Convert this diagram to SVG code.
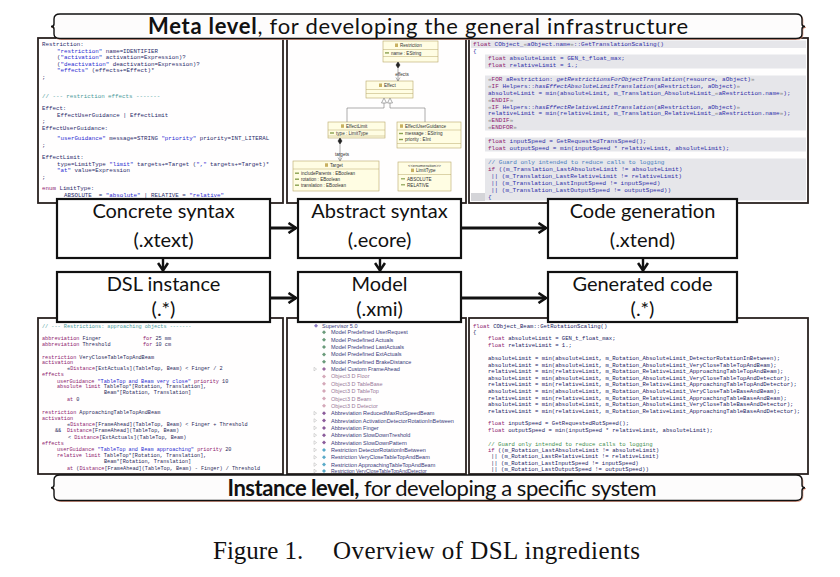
<svg xmlns="http://www.w3.org/2000/svg" width="840" height="577" viewBox="0 0 840 577">
<style>
.panel{fill:#fffefe;stroke:#2a2220;stroke-width:1.8}
.box{fill:#fff;stroke:#111;stroke-width:2.2}
.lbl{font-family:Lato,"Liberation Sans",sans-serif;font-size:20px;fill:#111;text-anchor:middle}
.ban{fill:#fdfcfc;stroke:#111;stroke-width:1.4}
.banh{fill:none;stroke:#d9907a;stroke-width:1}
.bt{font-family:Lato,"Liberation Sans",sans-serif;font-size:22px;fill:#111;text-anchor:middle}
.arr{fill:none;stroke:#111;stroke-width:3}
.code{font-family:"Liberation Mono",monospace}
.c1{font-size:5.8px;fill:#2a2a6a}
.c2{font-size:6px;fill:#2f2fa8}
.c3{font-size:5.2px;fill:#2a2a5a}
.c4{font-size:5.6px;fill:#22225e}
.k{fill:#8e1a6e}
.s{fill:#2a2ad0}
.cm{fill:#4a9a9a}
.cb{fill:#4a80c0}
.cg{fill:#3f8f4f}
.it{font-style:italic}
.gq{fill:#8a8a8a}
.hl{fill:#e6e6ea}
.ec{fill:#fffde3;stroke:#b9a86a;stroke-width:0.6}
.ecl{stroke:#b9a86a;stroke-width:0.5}
.et{font-family:"Liberation Sans",sans-serif;font-size:4.6px;fill:#333}
.mid{text-anchor:middle}
.ico{fill:#c8b060}
.att{fill:#8aa050}
.tr{font-family:"Liberation Sans",sans-serif;font-size:5.5px;fill:#3a3a7a}
.tro{fill:#9a7a9a}
.exp{fill:none;stroke:#b0b0b0;stroke-width:0.5}
.cap{font-family:"Liberation Serif",serif;font-size:25px;fill:#111}
</style>
<defs>
<marker id="ah" viewBox="0 0 12 12" refX="10" refY="6" markerWidth="12" markerHeight="12" markerUnits="userSpaceOnUse" orient="auto">
<path d="M2.5,1 L10,6 L2.5,11" fill="none" stroke="#111" stroke-width="2.6"/>
</marker>
<path id="dm" d="M0,-2 L2,0 L0,2 L-2,0Z"/>
<path id="ex" class="exp" d="M-1,-1.8 L1.6,0 L-1,1.8Z"/>
</defs>

<!-- ===== top-left panel: concrete syntax (xtext) ===== -->
<g id="panel-xtext">
<rect class="panel" x="38" y="38" width="245" height="165"/>
<g class="code c1">
<text x="42" y="46">Restriction:</text>
<text x="57" y="52.5"><tspan class="s">"restriction"</tspan> name=IDENTIFIER</text>
<text x="57" y="59">(<tspan class="s">"activation"</tspan> activation=Expression)?</text>
<text x="57" y="65.5">(<tspan class="s">"deactivation"</tspan> deactivation=Expression)?</text>
<text x="57" y="72"><tspan class="s">"effects"</tspan> (effects+=Effect)*</text>
<text x="42" y="79">;</text>
<text x="42" y="97.5" class="cm">// --- restriction effects -------</text>
<text x="42" y="110">Effect:</text>
<text x="57" y="116.5">EffectUserGuidance | EffectLimit</text>
<text x="42" y="123">;</text>
<text x="42" y="129.5">EffectUserGuidance:</text>
<text x="57" y="140"><tspan class="s">"userGuidance"</tspan> message=STRING <tspan class="s">"priority"</tspan> priority=INT_LITERAL</text>
<text x="42" y="147">;</text>
<text x="42" y="159">EffectLimit:</text>
<text x="57" y="165.5">type=LimitType <tspan class="s">"limit"</tspan> targets+=Target (<tspan class="s">","</tspan> targets+=Target)*</text>
<text x="57" y="172"><tspan class="s">"at"</tspan> value=Expression</text>
<text x="42" y="179">;</text>
<text x="42" y="190"><tspan class="k">enum</tspan> LimitType:</text>
<text x="64" y="196.5">ABSOLUTE</text>
<text x="98.8" y="196.5">= <tspan class="s">"absolute"</tspan> | RELATIVE = <tspan class="s">"relative"</tspan></text>
</g>
</g>

<!-- ===== top-middle panel: abstract syntax (ecore) ===== -->
<g id="panel-ecore">
<rect class="panel" x="287" y="38" width="179" height="165"/>
<g id="ec-restriction">
<rect class="ec" x="383" y="41" width="55" height="21"/>
<line class="ecl" x1="383" y1="49.5" x2="438" y2="49.5"/>
<line class="ecl" x1="383" y1="56.5" x2="438" y2="56.5"/>
<rect class="ico" x="395" y="43.5" width="3" height="3.5"/>
<text class="et" x="400" y="47.2">Restriction</text>
<rect class="att" x="385" y="52.2" width="4" height="1.4"/>
<text class="et" x="391" y="54.8">name : EString</text>
</g>
<g id="ec-effect">
<rect class="ec" x="366" y="81" width="47" height="17"/>
<line class="ecl" x1="366" y1="89.5" x2="413" y2="89.5"/>
<line class="ecl" x1="366" y1="93.5" x2="413" y2="93.5"/>
<rect class="ico" x="379" y="83.5" width="3" height="3.5"/>
<text class="et" x="384" y="87.2">Effect</text>
</g>
<g id="ec-effectlimit">
<rect class="ec" x="328" y="122" width="57" height="16"/>
<line class="ecl" x1="328" y1="130" x2="385" y2="130"/>
<line class="ecl" x1="328" y1="136" x2="385" y2="136"/>
<rect class="ico" x="341" y="124.3" width="3" height="3.5"/>
<text class="et" x="346" y="128">EffectLimit</text>
<rect class="att" x="330" y="132.3" width="4" height="1.4"/>
<text class="et" x="336" y="134.8">type : LimitType</text>
</g>
<g id="ec-effectuserguidance">
<rect class="ec" x="397" y="122" width="64" height="26"/>
<line class="ecl" x1="397" y1="130" x2="461" y2="130"/>
<line class="ecl" x1="397" y1="143.5" x2="461" y2="143.5"/>
<rect class="ico" x="400" y="124.3" width="3" height="3.5"/>
<text class="et" x="405" y="128">EffectUserGuidance</text>
<rect class="att" x="399" y="132.8" width="4" height="1.4"/>
<text class="et" x="405" y="135.3">message : EString</text>
<rect class="att" x="399" y="138.8" width="4" height="1.4"/>
<text class="et" x="405" y="141.3">priority : EInt</text>
</g>
<g id="ec-target">
<rect class="ec" x="293" y="161" width="86" height="30"/>
<line class="ecl" x1="293" y1="169" x2="379" y2="169"/>
<rect class="ico" x="325" y="163.3" width="3" height="3.5"/>
<text class="et" x="330" y="167">Target</text>
<rect class="att" x="295" y="172.5" width="4" height="1.4"/>
<text class="et" x="301" y="175">includeParents : EBoolean</text>
<rect class="att" x="295" y="178.5" width="4" height="1.4"/>
<text class="et" x="301" y="181">rotation : EBoolean</text>
<rect class="att" x="295" y="184.5" width="4" height="1.4"/>
<text class="et" x="301" y="187">translation : EBoolean</text>
</g>
<g id="ec-limittype">
<rect class="ec" x="398" y="162" width="53" height="29"/>
<line class="ecl" x1="398" y1="174.5" x2="451" y2="174.5"/>
<text class="et mid" x="424.5" y="167" style="font-size:4.2px">&lt;&lt;enumeration&gt;&gt;</text>
<rect class="ico" x="411" y="168.6" width="3" height="3.5"/>
<text class="et" x="416" y="172.3">LimitType</text>
<rect class="att" x="401" y="178.2" width="4" height="1.2"/>
<text class="et" x="407" y="180.5">ABSOLUTE</text>
<rect class="att" x="401" y="184.2" width="4" height="1.2"/>
<text class="et" x="407" y="186.5">RELATIVE</text>
</g>
<g id="ec-links" fill="none" stroke="#777" stroke-width="0.6">
<line x1="398" y1="68" x2="398" y2="81"/>
<polygon points="398,62 400,65 398,68 396,65" fill="#222" stroke="#222"/>
<polyline points="396,77.5 398,81 400,77.5"/>
<line x1="340" y1="144" x2="340" y2="161"/>
<polygon points="340,138 342,141 340,144 338,141" fill="#222" stroke="#222"/>
<polyline points="338,157.5 340,161 342,157.5"/>
<polyline points="384,103 384,108 347,108 347,122"/>
<polyline points="390,103 390,108 425,108 425,122"/>
<polygon points="384,98 386.5,103 381.5,103" fill="#fff"/>
<polygon points="390,98 392.5,103 387.5,103" fill="#fff"/>
</g>
<text class="et mid" x="402" y="76">effects</text>
<text class="et mid" x="342" y="156">targets</text>
</g>

<!-- ===== top-right panel: code generation (xtend) ===== -->
<g id="panel-xtend">
<rect class="panel" x="469" y="38" width="339" height="165"/>
<rect class="hl" x="471" y="40.5" width="335" height="7.5"/>
<rect class="hl" x="485" y="54.5" width="321" height="14"/>
<rect class="hl" x="485" y="75.5" width="321" height="55"/>
<rect class="hl" x="485" y="137.5" width="321" height="14"/>
<rect class="hl" x="485" y="158.5" width="321" height="42"/>
<rect class="hl" x="471" y="193" width="14" height="8" style="fill:#d4d4d8"/>
<g class="code c2">
<text x="473" y="46"><tspan class="k">float</tspan> CObject_<tspan class="gq">«</tspan>aObject.name<tspan class="gq">»</tspan>::GetTranslationScaling()</text>
<text x="473" y="53">{</text>
<text x="488" y="60"><tspan class="k">float</tspan> absoluteLimit = GEN_t_float_max;</text>
<text x="488" y="67"><tspan class="k">float</tspan> relativeLimit = 1.;</text>
<text x="488" y="81"><tspan class="gq">«</tspan><tspan class="k">FOR</tspan> aRestriction: <tspan class="it">getRestrictionsForObjectTranslation</tspan>(resource, aObject)<tspan class="gq">»</tspan></text>
<text x="488" y="88"><tspan class="gq">«</tspan><tspan class="k">IF</tspan> Helpers::<tspan class="it">hasEffectAbsoluteLimitTranslation</tspan>(aRestriction, aObject)<tspan class="gq">»</tspan></text>
<text x="488" y="94.5">absoluteLimit = min(absoluteLimit, m_Translation_AbsoluteLimit_<tspan class="gq">«</tspan>aRestriction.name<tspan class="gq">»</tspan>);</text>
<text x="488" y="101.5"><tspan class="gq">«</tspan><tspan class="k">ENDIF</tspan><tspan class="gq">»</tspan></text>
<text x="488" y="108.5"><tspan class="gq">«</tspan><tspan class="k">IF</tspan> Helpers::<tspan class="it">hasEffectRelativeLimitTranslation</tspan>(aRestriction, aObject)<tspan class="gq">»</tspan></text>
<text x="488" y="115">relativeLimit = min(relativeLimit, m_Translation_RelativeLimit_<tspan class="gq">«</tspan>aRestriction.name<tspan class="gq">»</tspan>);</text>
<text x="488" y="122"><tspan class="gq">«</tspan><tspan class="k">ENDIF</tspan><tspan class="gq">»</tspan></text>
<text x="488" y="129"><tspan class="gq">«</tspan><tspan class="k">ENDFOR</tspan><tspan class="gq">»</tspan></text>
<text x="488" y="143"><tspan class="k">float</tspan> inputSpeed = GetRequestedTransSpeed();</text>
<text x="488" y="150"><tspan class="k">float</tspan> outputSpeed = min(inputSpeed * relativeLimit, absoluteLimit);</text>
<text x="488" y="164" class="cb">// Guard only intended to reduce calls to logging</text>
<text x="488" y="171"><tspan class="k">if</tspan> ((m_Translation_LastAbsoluteLimit != absoluteLimit)</text>
<text x="491" y="178">|| (m_Translation_LastRelativeLimit != relativeLimit)</text>
<text x="491" y="185">|| (m_Translation_LastInputSpeed != inputSpeed)</text>
<text x="491" y="192">|| (m_Translation_LastOutputSpeed != outputSpeed))</text>
<text x="488" y="199">{</text>
</g>
</g>

<!-- ===== bottom-left panel: DSL instance ===== -->
<g id="panel-dsl">
<rect class="panel" x="38" y="318" width="245" height="156"/>
<g class="code c3">
<text x="42" y="327.5" class="cm">// --- Restrictions: approaching objects -------</text>
<text x="42" y="339.5"><tspan class="k">abbreviation</tspan> Finger</text>
<text x="143" y="339.5"><tspan class="k">for</tspan> 25 mm</text>
<text x="42" y="345.5"><tspan class="k">abbreviation</tspan> Threshold</text>
<text x="143" y="345.5"><tspan class="k">for</tspan> 10 cm</text>
<text x="42" y="358.5"><tspan class="k">restriction</tspan> VeryCloseTableTopAndBeam</text>
<text x="42" y="364.3" class="k">activation</text>
<text x="67" y="370">«<tspan class="k">Distance</tspan>[ExtActuals](TableTop, Beam) &lt; Finger / 2</text>
<text x="42" y="376" class="k">effects</text>
<text x="57" y="382.5"><tspan class="k">userGuidance</tspan> <tspan class="s">"TableTop and Beam very close"</tspan> <tspan class="k">priority</tspan> 10</text>
<text x="57" y="388.3"><tspan class="k">absolute limit</tspan> TableTop*[Rotation, Translation],</text>
<text x="104" y="394.3">Beam*[Rotation, Translation]</text>
<text x="67" y="401"><tspan class="k">at</tspan> 0</text>
<text x="42" y="413.5"><tspan class="k">restriction</tspan> ApproachingTableTopAndBeam</text>
<text x="42" y="419.5" class="k">activation</text>
<text x="67" y="426">«<tspan class="k">Distance</tspan>[FrameAhead](TableTop, Beam) &lt; Finger + Threshold</text>
<text x="55" y="432">&amp;&amp;</text>
<text x="67" y="432"><tspan class="k">Distance</tspan>[FrameAhead](TableTop, Beam)</text>
<text x="68" y="438.5">&lt; <tspan class="k">Distance</tspan>[ExtActuals](TableTop, Beam)</text>
<text x="42" y="445" class="k">effects</text>
<text x="57" y="451"><tspan class="k">userGuidance</tspan> <tspan class="s">"TableTop and Beam approaching"</tspan> <tspan class="k">priority</tspan> 20</text>
<text x="57" y="457"><tspan class="k">relative limit</tspan> TableTop*[Rotation, Translation],</text>
<text x="104" y="463">Beam*[Rotation, Translation]</text>
<text x="67" y="469.5"><tspan class="k">at</tspan> (<tspan class="k">Distance</tspan>[FrameAhead](TableTop, Beam) - Finger) / Threshold</text>
</g>
</g>

<!-- ===== bottom-middle panel: model (xmi) tree ===== -->
<g id="panel-model">
<rect class="panel" x="287" y="318" width="179" height="156"/>
<g class="tr">
<use href="#dm" x="316" y="325.7" fill="#8a7ac0"/><text x="322" y="327.7">Supervisor 5.0</text>
<use href="#dm" x="324" y="332.3" fill="#6a9a7a"/><text x="331" y="334.3">Model Predefined UserRequest</text>
<use href="#dm" x="324" y="339.7" fill="#6a9a7a"/><text x="331" y="341.7">Model Predefined Actuals</text>
<use href="#dm" x="324" y="347" fill="#6a9a7a"/><text x="331" y="349">Model Predefined LastActuals</text>
<use href="#dm" x="324" y="354.4" fill="#6a9a7a"/><text x="331" y="356.4">Model Predefined ExtActuals</text>
<use href="#dm" x="324" y="361.7" fill="#6a9a7a"/><text x="331" y="363.7">Model Predefined BrakeDistance</text>
<use href="#ex" x="315" y="369.1"/><use href="#dm" x="324" y="369.1" fill="#9a6aa0"/><text x="331" y="371.1">Model Custom FrameAhead</text>
<use href="#dm" x="324" y="376.4" fill="#d4a8b8"/><text x="331" y="378.4" class="tro">Object3 D Floor</text>
<use href="#dm" x="324" y="383.8" fill="#d4a8b8"/><text x="331" y="385.8" class="tro">Object3 D TableBase</text>
<use href="#dm" x="324" y="391.1" fill="#d4a8b8"/><text x="331" y="393.1" class="tro">Object3 D TableTop</text>
<use href="#dm" x="324" y="398.5" fill="#d4a8b8"/><text x="331" y="400.5" class="tro">Object3 D Beam</text>
<use href="#dm" x="324" y="405.8" fill="#d4a8b8"/><text x="331" y="407.8" class="tro">Object3 D Detector</text>
<use href="#ex" x="315" y="413.2"/><use href="#dm" x="324" y="413.2" fill="#8a5a9a"/><text x="331" y="415.2">Abbreviation ReducedMaxRotSpeedBeam</text>
<use href="#ex" x="315" y="420.5"/><use href="#dm" x="324" y="420.5" fill="#8a5a9a"/><text x="331" y="422.5">Abbreviation ActivationDetectorRotationInBetween</text>
<use href="#ex" x="315" y="427.9"/><use href="#dm" x="324" y="427.9" fill="#8a5a9a"/><text x="331" y="429.9">Abbreviation Finger</text>
<use href="#ex" x="315" y="435.2"/><use href="#dm" x="324" y="435.2" fill="#8a5a9a"/><text x="331" y="437.2">Abbreviation SlowDownTreshold</text>
<use href="#ex" x="315" y="442.6"/><use href="#dm" x="324" y="442.6" fill="#8a5a9a"/><text x="331" y="444.6">Abbreviation SlowDownPattern</text>
<use href="#ex" x="315" y="449.9"/><use href="#dm" x="324" y="449.9" fill="#5aaac8"/><text x="331" y="451.9">Restriction DetectorRotationInBetween</text>
<use href="#ex" x="315" y="457.3"/><use href="#dm" x="324" y="457.3" fill="#5aaac8"/><text x="331" y="459.3">Restriction VeryCloseTableTopAndBeam</text>
<use href="#ex" x="315" y="464.6"/><use href="#dm" x="324" y="464.6" fill="#5aaac8"/><text x="331" y="466.6">Restriction ApproachingTableTopAndBeam</text>
<use href="#ex" x="315" y="471"/><use href="#dm" x="324" y="471" fill="#5aaac8"/><text x="331" y="472.6" style="font-size:5px">Restriction VeryCloseTableTopAndDetector</text>
</g>
</g>

<!-- ===== bottom-right panel: generated code ===== -->
<g id="panel-generated">
<rect class="panel" x="469" y="318" width="339" height="156"/>
<g class="code c4">
<text x="473" y="328"><tspan class="k">float</tspan> CObject_Beam::GetRotationScaling()</text>
<text x="473" y="333.5">{</text>
<text x="488" y="340"><tspan class="k">float</tspan> absoluteLimit = GEN_t_float_max;</text>
<text x="488" y="346.5"><tspan class="k">float</tspan> relativeLimit = 1.;</text>
<text x="488" y="360">absoluteLimit = min(absoluteLimit, m_Rotation_AbsoluteLimit_DetectorRotationInBetween);</text>
<text x="488" y="366.5">absoluteLimit = min(absoluteLimit, m_Rotation_AbsoluteLimit_VeryCloseTableTopAndBeam);</text>
<text x="488" y="373">relativeLimit = min(relativeLimit, m_Rotation_RelativeLimit_ApproachingTableTopAndBeam);</text>
<text x="488" y="379.5">absoluteLimit = min(absoluteLimit, m_Rotation_AbsoluteLimit_VeryCloseTableTopAndDetector);</text>
<text x="488" y="386">relativeLimit = min(relativeLimit, m_Rotation_RelativeLimit_ApproachingTableTopAndDetector);</text>
<text x="488" y="393">absoluteLimit = min(absoluteLimit, m_Rotation_AbsoluteLimit_VeryCloseTableBaseAndBeam);</text>
<text x="488" y="399.5">relativeLimit = min(relativeLimit, m_Rotation_RelativeLimit_ApproachingTableBaseAndBeam);</text>
<text x="488" y="406">absoluteLimit = min(absoluteLimit, m_Rotation_AbsoluteLimit_VeryCloseTableBaseAndDetector);</text>
<text x="488" y="413">relativeLimit = min(relativeLimit, m_Rotation_RelativeLimit_ApproachingTableBaseAndDetector);</text>
<text x="488" y="425"><tspan class="k">float</tspan> inputSpeed = GetRequestedRotSpeed();</text>
<text x="488" y="432"><tspan class="k">float</tspan> outputSpeed = min(inputSpeed * relativeLimit, absoluteLimit);</text>
<text x="488" y="445.5" class="cg">// Guard only intended to reduce calls to logging</text>
<text x="488" y="452"><tspan class="k">if</tspan> ((m_Rotation_LastAbsoluteLimit != absoluteLimit)</text>
<text x="491" y="458.3">|| (m_Rotation_LastRelativeLimit != relativeLimit)</text>
<text x="491" y="464.6">|| (m_Rotation_LastInputSpeed != inputSpeed)</text>
<text x="491" y="470.9">|| (m_Rotation_LastOutputSpeed != outputSpeed))</text>
</g>
</g>

<!-- ===== banners ===== -->
<g id="banner-meta">
<path class="banh" transform="translate(0.8,0.9)" d="M60,14 L796,14 Q802,14 802,19 L802,24 Q802,26.5 805,26.5 Q802,26.5 802,29 L802,34 Q802,38.5 796,38.5 L60,38.5 Q54,38.5 54,34 L54,29 Q54,26.5 51,26.5 Q54,26.5 54,24 L54,19 Q54,14 60,14Z"/>
<path class="ban" d="M60,14 L796,14 Q802,14 802,19 L802,24 Q802,26.5 805,26.5 Q802,26.5 802,29 L802,34 Q802,38.5 796,38.5 L60,38.5 Q54,38.5 54,34 L54,29 Q54,26.5 51,26.5 Q54,26.5 54,24 L54,19 Q54,14 60,14Z"/>
<text class="bt" x="418" y="33.5" textLength="540"><tspan font-weight="bold">Meta level</tspan>, for developing the general infrastructure</text>
</g>
<g id="banner-instance">
<path class="banh" transform="translate(0.8,0.9)" d="M60,475 L796,475 Q802,475 802,480 L802,485 Q802,487.7 805,487.7 Q802,487.7 802,490.5 L802,495.5 Q802,500.5 796,500.5 L60,500.5 Q54,500.5 54,495.5 L54,490.5 Q54,487.7 51,487.7 Q54,487.7 54,485 L54,480 Q54,475 60,475Z"/>
<path class="ban" d="M60,475 L796,475 Q802,475 802,480 L802,485 Q802,487.7 805,487.7 Q802,487.7 802,490.5 L802,495.5 Q802,500.5 796,500.5 L60,500.5 Q54,500.5 54,495.5 L54,490.5 Q54,487.7 51,487.7 Q54,487.7 54,485 L54,480 Q54,475 60,475Z"/>
<text class="bt" x="442" y="496" textLength="429"><tspan font-weight="bold">Instance level,</tspan> for developing a specific system</text>
</g>

<!-- ===== connectors ===== -->
<g id="connectors" class="arr">
<line x1="270" y1="228" x2="296" y2="228" marker-end="url(#ah)"/>
<line x1="461" y1="228" x2="546" y2="228" marker-end="url(#ah)"/>
<line x1="270" y1="298" x2="296" y2="298" marker-end="url(#ah)"/>
<line x1="461" y1="298" x2="546" y2="298" marker-end="url(#ah)"/>
<line x1="163" y1="258" x2="163" y2="270.5" stroke-width="2.4" marker-end="url(#ah)"/>
<line x1="380" y1="258" x2="380" y2="270.5" stroke-width="2.4" marker-end="url(#ah)"/>
<line x1="643" y1="258" x2="643" y2="270.5" stroke-width="2.4" marker-end="url(#ah)"/>
</g>

<!-- ===== nodes ===== -->
<g id="node-concrete">
<rect class="box" x="57" y="199" width="213" height="59"/>
<text class="lbl" x="163.5" y="218">Concrete syntax</text>
<text class="lbl" x="163.5" y="247">(.xtext)</text>
</g>
<g id="node-abstract">
<rect class="box" x="298" y="199" width="163" height="59"/>
<text class="lbl" x="379.5" y="218">Abstract syntax</text>
<text class="lbl" x="379.5" y="247">(.ecore)</text>
</g>
<g id="node-codegen">
<rect class="box" x="548" y="199" width="189" height="59"/>
<text class="lbl" x="642.5" y="218">Code generation</text>
<text class="lbl" x="642.5" y="247">(.xtend)</text>
</g>
<g id="node-dsl">
<rect class="box" x="57" y="272" width="213" height="50"/>
<text class="lbl" x="163.5" y="291">DSL instance</text>
<text class="lbl" x="163.5" y="316">(.*)</text>
</g>
<g id="node-model">
<rect class="box" x="298" y="272" width="163" height="50"/>
<text class="lbl" x="379.5" y="291">Model</text>
<text class="lbl" x="379.5" y="316">(.xmi)</text>
</g>
<g id="node-generated">
<rect class="box" x="548" y="272" width="189" height="50"/>
<text class="lbl" x="642.5" y="291">Generated code</text>
<text class="lbl" x="642.5" y="316">(.*)</text>
</g>

<!-- ===== caption ===== -->
<text class="cap" x="213" y="559">Figure 1.</text>
<text class="cap" x="333" y="559" textLength="307">Overview of DSL ingredients</text>
</svg>
